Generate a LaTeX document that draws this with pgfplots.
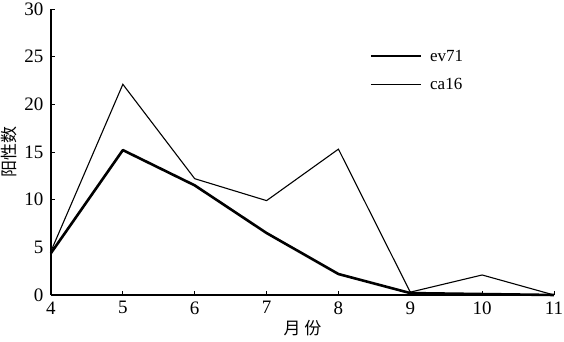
\documentclass[border=0pt]{standalone}
\usepackage{pgfplots}
\pgfplotsset{compat=1.18}
\usepackage{fontspec}
\setmainfont{Liberation Serif}
\newfontfamily\cjk{Noto Sans CJK SC}
\begin{document}
\begin{tikzpicture}
\begin{axis}[
  scale only axis,
  width=503pt, height=286pt,
  xmin=4, xmax=11, ymin=0, ymax=30,
  xtick={4,...,11}, ytick={0,5,...,30},
  axis lines=left,
  axis line style={line width=1.2pt, -},
  tick style={line width=0.8pt, black},
  major tick length=4pt,
  tick align=inside,
  tick label style={font=\fontsize{19}{19}\selectfont},
  /pgf/number format/assume math mode=true,
  xticklabel style={inner xsep=0pt, yshift=-3pt},
  yticklabel style={inner ysep=0pt, xshift=-4pt},
  xlabel={\cjk 月 份}, ylabel={\cjk 阳性数},
  label style={font=\fontsize{17}{17}\selectfont},
  xlabel style={at={(axis description cs:0.5,-0.1155)}, anchor=center, inner sep=0pt},
  ylabel style={at={(axis description cs:-0.0835,0.5)}, anchor=center, inner sep=0pt},
  legend style={draw=none, fill=none, at={(0.627,0.872)}, anchor=north west, font=\fontsize{17}{17}\selectfont, row sep=12pt},
  legend cell align=left,
  legend image code/.code={\draw[#1] (0pt,0pt) -- (50pt,0pt); \path (56pt,0pt);},
  clip=false,
]
\addplot[black, line width=2.6pt, line join=round] coordinates {(4,4.4) (5,15.2) (6,11.5) (7,6.5) (8,2.2) (9,0.2) (10,0.1) (11,0)};
\addlegendentry{ev71}
\addplot[black, line width=1.1pt] coordinates {(4,4.6) (5,22.1) (6,12.2) (7,9.9) (8,15.3) (9,0.3) (10,2.1) (11,0)};
\addlegendentry{ca16}
\coordinate (sw) at (rel axis cs:0,0);
\coordinate (ne) at (rel axis cs:1,1);
\end{axis}
\pgfresetboundingbox
\useasboundingbox ([xshift=-51pt,yshift=-47pt]sw) rectangle ([xshift=10pt,yshift=9pt]ne);
\end{tikzpicture}
\end{document}
